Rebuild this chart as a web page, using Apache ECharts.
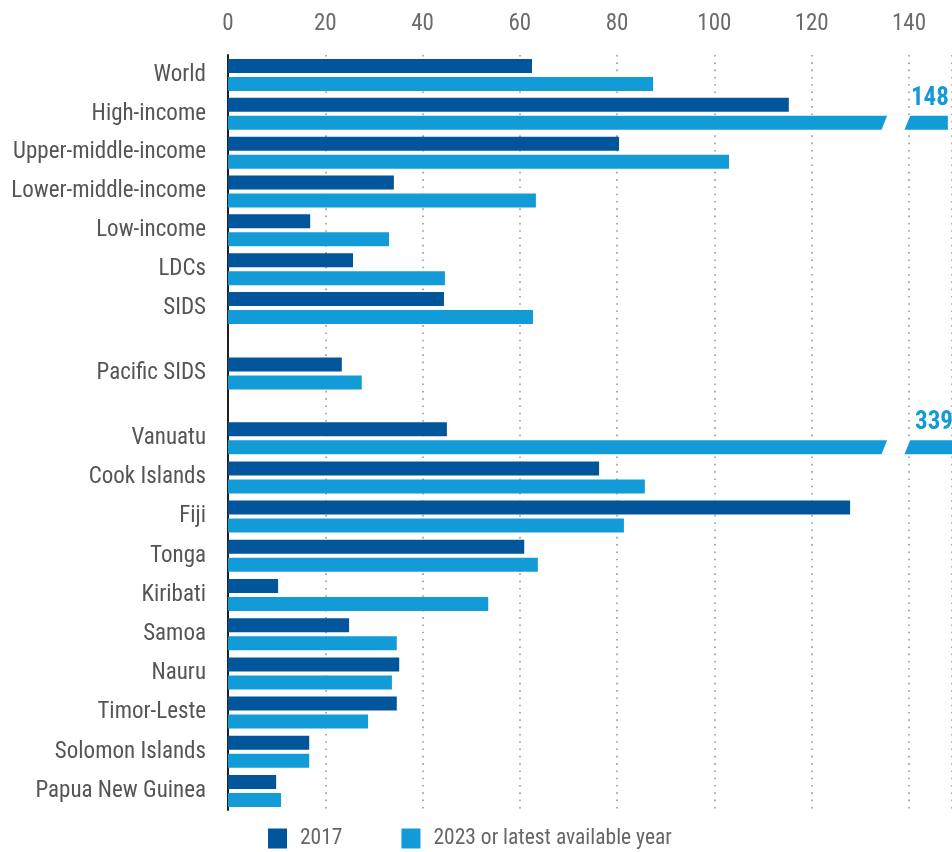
<!DOCTYPE html>
<html><head><meta charset="utf-8">
<script src="https://cdn.jsdelivr.net/npm/echarts@6/dist/echarts.min.js"></script>
<style>html,body{margin:0;padding:0;background:#fff}#c{width:952px;height:852px}</style>
</head><body><div id="c"></div>
<script>
// ---- data ----
const categories = ['World','High-income','Upper-middle-income','Lower-middle-income','Low-income','LDCs','SIDS',
  'Pacific SIDS',
  'Vanuatu','Cook Islands','Fiji','Tonga','Kiribati','Samoa','Nauru','Timor-Leste','Solomon Islands','Papua New Guinea'];
const groupSizes = [7, 1, 10];
const values2017 = [62.5,115.3,80.4,34.1,16.9,25.7,44.4, 23.4, 45.0,76.3,127.9,60.9,10.3,24.9,35.2,34.7,16.7,9.9];
const values2023 = [87.4,148,103.0,63.3,33.1,44.6,62.7, 27.5, 339,85.7,81.4,63.7,53.5,34.7,33.7,28.8,16.7,10.9];
const seriesNames = ['2017', '2023 or latest available year'];
const tickMin = 0, tickInterval = 20;

// ---- layout / style ----
const FONT = "'Liberation Sans Narrow','Roboto Condensed','DejaVu Sans Condensed','Liberation Sans',sans-serif";
const DARK = '#00559b', LIGHT = '#139bd7';
const GRID_LEFT = 228, AXIS_MAX = 148.85;
const TICK_LIMIT = 140; // values beyond this are drawn broken
const BREAK_AT = 137.3, BREAK_W = 23, BREAK_SLANT = 6;
const BAR_W = 14, BAR_GAP = 4;
const groupBoxes = [
  {top: 55.6, height: 271.8},
  {top: 354.05, height: 38.9},
  {top: 418.6, height: 392}
];

const grids = [], xAxes = [], yAxes = [], series = [];
// background grid: top axis labels, dotted gridlines, left axis line
grids.push({left: GRID_LEFT, right: 0, top: 55, bottom: 42, outerBoundsMode: 'none'});
xAxes.push({gridIndex: 0, type: 'value', position: 'top', min: tickMin, max: AXIS_MAX, interval: tickInterval,
  axisLine: {show: false}, axisTick: {show: false},
  axisLabel: {margin: 19, fontFamily: FONT, fontSize: 23, color: '#6b6b6b', showMaxLabel: false},
  splitLine: {show: true, lineStyle: {color: '#9a9a9a', width: 1.6, type: [1.6, 5.7]}}});
yAxes.push({gridIndex: 0, type: 'value', min: 0, max: 1, offset: 1,
  axisLine: {show: true, lineStyle: {color: '#231f20', width: 2}},
  axisTick: {show: false}, axisLabel: {show: false}, splitLine: {show: false}});

let start = 0;
groupSizes.forEach((n, g) => {
  const gi = g + 1;
  const cats = categories.slice(start, start + n);
  const v17 = values2017.slice(start, start + n);
  const v23 = values2023.slice(start, start + n);
  start += n;
  grids.push({left: GRID_LEFT, right: 0, top: groupBoxes[g].top, height: groupBoxes[g].height, outerBoundsMode: 'none'});
  xAxes.push({gridIndex: gi, type: 'value', min: tickMin, max: AXIS_MAX, interval: tickInterval, show: false});
  yAxes.push({gridIndex: gi, type: 'category', data: cats, inverse: true,
    axisLine: {show: false}, axisTick: {show: false}, splitLine: {show: false},
    axisLabel: {margin: 22, fontFamily: FONT, fontSize: 23, color: '#555555'}});
  series.push({name: seriesNames[0], type: 'bar', xAxisIndex: gi, yAxisIndex: gi,
    barWidth: BAR_W, barGap: (BAR_GAP / BAR_W * 100) + '%', itemStyle: {color: DARK},
    data: v17, silent: true});
  series.push({name: seriesNames[1], type: 'bar', xAxisIndex: gi, yAxisIndex: gi,
    barWidth: BAR_W, itemStyle: {color: LIGHT}, silent: true,
    data: v23.map(v => v > TICK_LIMIT ? {value: v, label: {show: true, position: 'insideRight',
      offset: [6, -24], fontFamily: FONT, fontSize: 25, fontWeight: 'bold', color: LIGHT,
      formatter: p => String(p.value)}} : v)});
  const breaks = [];
  v23.forEach((v, i) => { if (v > TICK_LIMIT) breaks.push([BREAK_AT, i]); });
  if (breaks.length) {
    series.push({type: 'custom', xAxisIndex: gi, yAxisIndex: gi, z: 5, silent: true, data: breaks,
      renderItem: function (params, api) {
        const c = api.coord([api.value(0), api.value(1)]);
        const y0 = c[1] + BAR_GAP / 2 - 0.5, y1 = c[1] + BAR_GAP / 2 + BAR_W + 0.5;
        const cx = c[0], w = BREAK_W, s = BREAK_SLANT;
        return {type: 'polygon', shape: {points: [
          [cx - w / 2 + s / 2, y0], [cx + w / 2 + s / 2, y0],
          [cx + w / 2 - s / 2, y1], [cx - w / 2 - s / 2, y1]]},
          style: {fill: '#ffffff'}};
      }});
  }
});

const chart = echarts.init(document.getElementById('c'), null, {renderer: 'canvas'});
chart.setOption({
  animation: false,
  backgroundColor: '#ffffff',
  grid: grids, xAxis: xAxes, yAxis: yAxes, series: series,
  legend: {data: seriesNames, left: 268, top: 827.5, padding: 0, icon: 'rect', itemWidth: 19, itemHeight: 20, itemGap: 59,
    selectedMode: false,
    textStyle: {fontFamily: FONT, fontSize: 21.5, color: '#666666', padding: [0, 0, 0, 8]}}
});
</script></body></html>
